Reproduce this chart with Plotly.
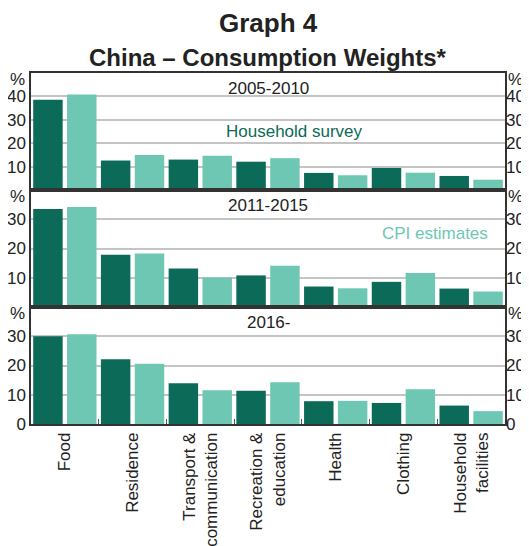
import plotly.graph_objects as go
from plotly.subplots import make_subplots

categories = ["Food", "Residence", "Transport &<br>communication", "Recreation &<br>education",
              "Health", "Clothing", "Household<br>facilities"]

hs_2005 = [38.6, 12.6, 13.0, 12.1, 7.3, 9.4, 6.0]
cpi_2005 = [40.8, 15.0, 14.6, 13.6, 6.3, 7.4, 4.4]
hs_2011 = [33.5, 17.9, 13.2, 10.8, 7.0, 8.6, 6.3]
cpi_2011 = [34.2, 18.3, 10.1, 14.1, 6.4, 11.6, 5.3]
hs_2016 = [30.0, 22.1, 13.9, 11.4, 7.8, 7.2, 6.3]
cpi_2016 = [30.7, 20.6, 11.5, 14.3, 7.9, 11.9, 4.4]

panel_titles = ["2005-2010", "2011-2015", "2016-"]
y_ranges = [[0, 50], [0, 40], [0, 40]]
y_ticks = [[10, 20, 30, 40], [10, 20, 30], [0, 10, 20, 30]]

DARK = "#0c6a58"
LIGHT = "#6ec7b3"
FONT = "Liberation Sans, Arial, sans-serif"
TXT = "#222222"

fig = make_subplots(rows=3, cols=1, shared_xaxes=True, vertical_spacing=0)

series = [(hs_2005, cpi_2005), (hs_2011, cpi_2011), (hs_2016, cpi_2016)]
for i, (hs, cpi) in enumerate(series):
    r = i + 1
    fig.add_trace(go.Bar(x=categories, y=hs, marker=dict(color=DARK, line=dict(width=0)),
                         name="Household survey", showlegend=False), row=r, col=1)
    fig.add_trace(go.Bar(x=categories, y=cpi, marker=dict(color=LIGHT, line=dict(width=0)),
                         name="CPI estimates", showlegend=False), row=r, col=1)

for i in range(3):
    r = i + 1
    fig.update_yaxes(range=y_ranges[i], tickvals=y_ticks[i], showgrid=True,
                     gridcolor="#c4c4c4", gridwidth=1.5, showline=True, linecolor="#333333",
                     linewidth=1.5, mirror=True, ticks="", zeroline=False, automargin=False,
                     tickfont=dict(size=17, color=TXT, family=FONT), row=r, col=1)
    fig.update_xaxes(showline=True, linecolor="#333333", linewidth=1.5, mirror=True,
                     ticks="", showgrid=False, automargin=False, row=r, col=1)

fig.update_xaxes(ticks="inside", tickson="boundaries", ticklen=5, tickcolor="#555555",
                 tickangle=-90, tickfont=dict(size=17, color=TXT, family=FONT), row=3, col=1)

# right-side mirrored tick labels (invisible helper traces keep the axes drawn)
ynames = ["y", "y2", "y3"]
xnames = ["x", "x2", "x3"]
for i, (hs, cpi) in enumerate(series):
    fig.layout["yaxis%d" % (i + 4)] = dict(
        overlaying=ynames[i], side="right", range=y_ranges[i], tickvals=y_ticks[i],
        showgrid=False, zeroline=False, ticks="", showline=False, automargin=False,
        tickfont=dict(size=17, color=TXT, family=FONT), anchor=xnames[i])
    fig.add_trace(go.Scatter(x=categories, y=hs, xaxis=xnames[i], yaxis="y%d" % (i + 4),
                             mode="markers", marker=dict(opacity=0), hoverinfo="skip",
                             showlegend=False))

annotations = []
for i in range(3):
    yd = ("y domain" if i == 0 else "y%d domain" % (i + 1))
    annotations.append(dict(text=panel_titles[i], xref="paper", yref=yd, x=0.5, y=1,
                            xanchor="center", yanchor="top", yshift=-4, showarrow=False,
                            font=dict(size=17, color=TXT, family=FONT)))
    annotations.append(dict(text="%", xref="paper", yref=yd, x=0, y=1, xanchor="right",
                            yanchor="top", xshift=-4, yshift=5, showarrow=False,
                            font=dict(size=17, color=TXT, family=FONT)))
    annotations.append(dict(text="%", xref="paper", yref=yd, x=1, y=1, xanchor="left",
                            yanchor="top", xshift=1, yshift=5, showarrow=False,
                            font=dict(size=17, color=TXT, family=FONT)))

annotations.append(dict(text="Household survey", xref="paper", yref="y", x=0.555, y=25,
                        xanchor="center", yanchor="middle", showarrow=False,
                        font=dict(size=17, color=DARK, family=FONT)))
annotations.append(dict(text="CPI estimates", xref="paper", yref="y2", x=0.852, y=25,
                        xanchor="center", yanchor="middle", showarrow=False,
                        font=dict(size=17, color=LIGHT, family=FONT)))
annotations.append(dict(text="<b>Graph 4</b>", xref="paper", yref="paper", x=0.5,
                        y=(424 - 23) / 351, xanchor="center", yanchor="middle", showarrow=False,
                        font=dict(size=26, color=TXT, family=FONT)))
annotations.append(dict(text="<b>China – Consumption Weights*</b>", xref="paper", yref="paper",
                        x=0.5, y=(424 - 58) / 351, xanchor="center", yanchor="middle",
                        showarrow=False, font=dict(size=24, color=TXT, family=FONT)))

# page body has an 8px margin, so the figure is offset to land plot area at the reference spot
fig.update_layout(
    width=529, height=546,
    margin=dict(l=23, r=32, t=65, b=130, autoexpand=False),
    barmode="group", bargap=0, bargroupgap=0.13,
    plot_bgcolor="white", paper_bgcolor="white",
    showlegend=False,
    font=dict(family=FONT, size=17, color=TXT),
    annotations=annotations,
)

fig.write_html("out.html")
